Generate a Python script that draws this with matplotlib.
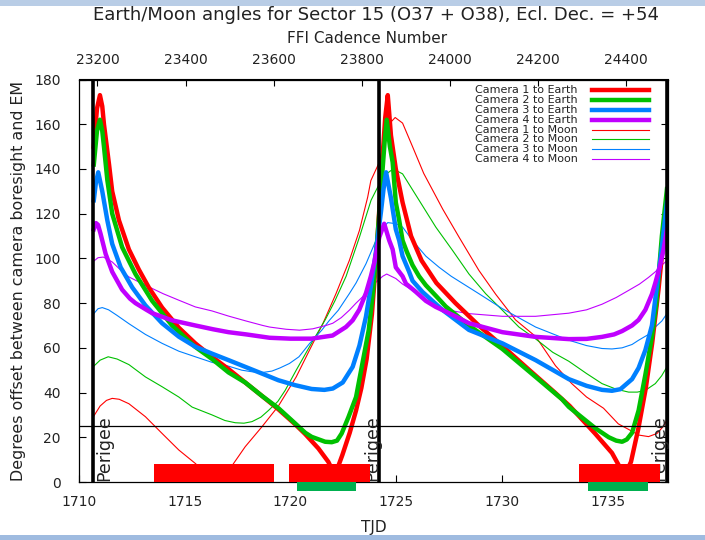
import numpy as np
import matplotlib.pyplot as plt
from matplotlib.patches import Rectangle

# Earth / Moon angle curves (TJD, degrees)
cam1_earth_t = [1710.70, 1710.85, 1710.99, 1711.10, 1711.18, 1711.42, 1711.57, 1711.89, 1712.36, 1712.83,
                1713.30, 1713.93, 1714.72, 1715.50, 1716.29, 1717.07, 1717.86, 1718.65, 1719.43, 1720.20,
                1720.69, 1721.32, 1721.79, 1722.10, 1722.45, 1722.80, 1723.10, 1723.35, 1723.60, 1723.85,
                1724.05, 1724.20, 1724.35, 1724.48, 1724.60, 1724.75, 1724.98, 1725.30, 1725.70, 1726.20,
                1726.90, 1727.80, 1728.90, 1730.00, 1731.30, 1732.50, 1733.20, 1734.40, 1735.20, 1735.55,
                1735.80, 1736.10, 1736.45, 1736.80, 1737.10, 1737.40, 1737.60, 1737.80]
cam1_earth_deg = [150, 167, 173, 168, 160, 142, 130, 117, 104, 95,
                  87, 78, 69, 62, 56, 50.5, 44.5, 38.5, 32.5, 26,
                  21.5, 15, 9, 3, 12, 22, 32, 42, 55, 75,
                  100, 122, 145, 163, 173, 155, 140, 125, 110, 99,
                  89, 80, 70, 61, 50, 40, 34, 21.7, 13, 7,
                  3, 9, 24, 42, 62, 86, 105, 125]

cam2_earth_t = [1710.70, 1710.85, 1710.99, 1711.10, 1711.18, 1711.34, 1711.57, 1712.04, 1712.67, 1713.46,
                1714.40, 1715.50, 1716.29, 1717.07, 1717.86, 1718.65, 1719.43, 1720.22, 1720.70, 1721.00,
                1721.64, 1721.95, 1722.20, 1722.42, 1722.74, 1723.10, 1723.40, 1723.70, 1723.90, 1724.10,
                1724.30, 1724.45, 1724.55, 1724.70, 1724.83, 1724.98, 1725.14, 1725.30, 1725.50, 1725.77,
                1726.08, 1726.40, 1726.90, 1727.34, 1728.44, 1730.02, 1731.59, 1732.84, 1733.16, 1734.42,
                1735.05, 1735.40, 1735.68, 1735.90, 1736.15, 1736.46, 1736.78, 1737.09, 1737.30, 1737.56,
                1737.80]
cam2_earth_deg = [142, 157, 162, 157, 150, 135, 120, 105, 93, 81,
                  70, 60.4, 55, 49, 44.5, 38.5, 33, 26.2, 22, 20.2,
                  18, 17.8, 18.5, 21.7, 29, 38, 53, 68, 85, 108,
                  133, 152, 162, 150, 143, 125, 117, 108, 103, 97,
                  92, 88, 83, 78.5, 70, 59.5, 47, 37, 33.6, 24,
                  20, 18.5, 18, 19, 22, 32, 48, 65, 80, 110,
                  131]

cam3_earth_t = [1710.70, 1710.80, 1710.91, 1711.10, 1711.34, 1711.57, 1711.97, 1712.52, 1713.14, 1713.93,
                1714.72, 1715.50, 1716.29, 1717.07, 1717.86, 1718.65, 1719.43, 1720.22, 1721.00, 1721.60,
                1722.00, 1722.47, 1722.94, 1723.26, 1723.57, 1723.81, 1724.04, 1724.28, 1724.40, 1724.52,
                1724.75, 1724.98, 1725.14, 1725.30, 1725.61, 1725.77, 1726.24, 1727.18, 1728.44, 1730.02,
                1731.59, 1733.16, 1734.00, 1734.73, 1735.20, 1735.60, 1736.15, 1736.46, 1736.78, 1737.09,
                1737.25, 1737.56, 1737.80]
cam3_earth_deg = [126, 134, 138.5, 130, 117, 106.5, 96, 87, 79, 71,
                  65, 60.5, 57.4, 54.5, 51.5, 48.5, 45.5, 43.3, 41.6, 41.2,
                  41.8, 44.5, 51.5, 61, 74, 88, 103, 121, 131, 138.5,
                  127, 113, 108, 101, 94, 90, 85, 77, 68, 62,
                  54.5, 46, 43, 41.2, 40.8, 41.5, 46, 51, 59, 70,
                  82, 105, 125]

cam4_earth_t = [1710.70, 1710.80, 1710.90, 1711.02, 1711.26, 1711.57, 1712.04, 1712.41, 1712.67, 1713.19,
                1713.46, 1714.40, 1715.50, 1716.34, 1717.07, 1717.91, 1719.01, 1720.00, 1721.00, 1721.99,
                1722.62, 1722.94, 1723.25, 1723.57, 1723.80, 1723.96, 1724.20, 1724.43, 1724.67, 1724.83,
                1724.98, 1725.30, 1725.46, 1725.93, 1726.40, 1726.87, 1727.50, 1728.44, 1730.02, 1731.59,
                1733.16, 1734.00, 1734.73, 1735.30, 1735.68, 1736.15, 1736.46, 1736.78, 1737.09, 1737.25,
                1737.48, 1737.64, 1737.80]
cam4_earth_deg = [113, 115.8, 115, 111, 102, 94, 86, 82, 80, 77,
                  75.5, 72.3, 70, 68.3, 67, 66, 64.5, 64.1, 64.1, 65.5,
                  69.3, 72.3, 77, 84.5, 92, 98, 109.5, 115.5, 108, 104,
                  96, 92, 88.7, 85, 81, 78.3, 75.5, 71, 67, 64.9,
                  63.9, 64, 64.9, 66, 67.5, 70, 72.5, 77, 84, 89,
                  97, 104, 113]

cam1_moon_t = [1710.70, 1711.00, 1711.30, 1711.57, 1711.90, 1712.36, 1713.14, 1713.93, 1714.72, 1715.50,
               1716.00, 1716.55, 1717.00, 1717.31, 1717.86, 1718.65, 1719.43, 1720.27, 1720.90, 1721.53,
               1722.15, 1722.78, 1723.26, 1723.65, 1723.80, 1724.20, 1724.50, 1724.75, 1724.95, 1725.30,
               1725.77, 1726.30, 1726.75, 1727.20, 1727.97, 1728.91, 1729.70, 1730.64, 1731.60, 1732.53,
               1733.30, 1734.00, 1734.80, 1735.50, 1735.99, 1736.46, 1736.93, 1737.33, 1737.64, 1737.80]
cam1_moon_deg = [29.5, 34, 36.5, 37.4, 37, 35, 29.2, 21.7, 14.3, 8.3,
                 4, 1, 4, 8.3, 15.8, 24.7, 34, 47, 59, 70.8,
                 84.2, 99, 112.5, 127.4, 134.8, 143, 155, 161, 163, 160.5,
                 150, 138, 130, 122, 109.5, 94.6, 84, 72.5, 65, 52,
                 44, 38, 33, 26, 23.5, 21, 20.3, 21.7, 25, 27.7]

cam2_moon_t = [1710.70, 1711.00, 1711.38, 1711.80, 1712.36, 1713.14, 1713.93, 1714.72, 1715.35, 1716.29,
               1716.90, 1717.39, 1717.80, 1718.18, 1718.60, 1718.96, 1719.40, 1719.75, 1720.27, 1721.05,
               1721.64, 1722.10, 1722.63, 1723.26, 1723.81, 1724.20, 1724.50, 1724.85, 1725.30, 1726.08,
               1726.87, 1727.66, 1728.44, 1729.23, 1730.02, 1730.80, 1731.59, 1732.40, 1733.16, 1734.00,
               1734.73, 1735.40, 1735.99, 1736.40, 1736.78, 1737.25, 1737.55, 1737.80]
cam2_moon_deg = [51.8, 54.5, 56, 55, 52.5, 47, 42.6, 38, 33.5, 30,
                 27.5, 26.5, 26.3, 27, 29, 32, 36, 41, 50, 63,
                 72.5, 81, 92, 109.5, 126, 133.3, 137.5, 140, 137.8, 126,
                 114, 103.6, 93, 84.2, 76.8, 69.3, 64, 58, 54, 48.5,
                 44, 41.5, 40.2, 40.2, 41, 44, 47.5, 51.5]

cam3_moon_t = [1710.70, 1710.90, 1711.10, 1711.40, 1711.80, 1712.36, 1713.14, 1713.93, 1714.72, 1715.50,
               1716.29, 1717.07, 1717.70, 1718.18, 1718.70, 1719.12, 1719.50, 1719.95, 1720.40, 1720.90,
               1721.48, 1721.84, 1722.26, 1722.78, 1723.10, 1723.57, 1724.04, 1724.30, 1724.60, 1725.00,
               1725.30, 1725.77, 1726.40, 1727.03, 1727.60, 1728.91, 1730.02, 1731.59, 1733.16, 1734.00,
               1734.73, 1735.20, 1735.68, 1736.15, 1736.46, 1736.93, 1737.25, 1737.56, 1737.80]
cam3_moon_deg = [75.3, 77.5, 78, 77, 74.5, 70.8, 66, 62, 58.5, 56,
                 53.5, 51.8, 50, 49.3, 49, 49.6, 51, 53, 56, 61.9,
                 67.9, 72.3, 76.8, 84.2, 89, 97.6, 108, 113, 116, 115.5,
                 114, 108, 101, 96, 92, 84.2, 77.5, 69.3, 63.4, 61,
                 59.7, 59.5, 60, 61.5, 63.4, 66, 69.3, 72, 75.3]

cam4_moon_t = [1710.70, 1710.90, 1711.15, 1711.57, 1712.00, 1712.36, 1713.14, 1713.98, 1714.72, 1715.50,
               1716.29, 1717.07, 1717.90, 1718.69, 1719.01, 1719.80, 1720.43, 1721.05, 1721.68, 1722.00,
               1722.40, 1722.78, 1723.10, 1723.43, 1723.73, 1724.00, 1724.36, 1724.55, 1724.98, 1725.30,
               1725.77, 1726.40, 1726.87, 1727.34, 1728.44, 1730.02, 1731.59, 1733.16, 1734.00, 1734.73,
               1735.40, 1735.99, 1736.50, 1736.93, 1737.25, 1737.56, 1737.80]
cam4_moon_deg = [98.8, 100.3, 100.6, 98.4, 94.5, 91.7, 88, 84.2, 81.3, 78.3,
                 76.5, 74.2, 72, 70, 69.3, 68.3, 67.9, 68.5, 70, 71,
                 73.5, 76.8, 80, 83, 86, 89, 92, 93, 91, 88.5,
                 85.7, 80.5, 79, 77, 75.3, 74.1, 74.1, 75.5, 77, 79.5,
                 82.5, 85.7, 88.5, 91.5, 94, 97, 99]

perigee_tjd = [1710.66, 1724.20, 1737.78]
earth_bars = [(1713.54, 1719.20), (1719.95, 1723.77), (1733.63, 1737.45)]
moon_bars = [(1720.33, 1723.11), (1734.06, 1736.90)]

labels = ['Camera 1 to Earth', 'Camera 2 to Earth', 'Camera 3 to Earth', 'Camera 4 to Earth',
          'Camera 1 to Moon', 'Camera 2 to Moon', 'Camera 3 to Moon', 'Camera 4 to Moon']
colors = ['#ff0000', '#00c000', '#0080ff', '#c000ff']

# FFI cadence <-> TJD (30 min cadence)
cad0, tjd0 = 23200, 1710.87
def tjd_to_cad(t):
    return cad0 + 48.0 * (np.asarray(t) - tjd0)
def cad_to_tjd(c):
    return tjd0 + (np.asarray(c) - cad0) / 48.0

fig = plt.figure(figsize=(7.05, 5.4), dpi=100)
ax = fig.add_axes([79 / 705, 58 / 540, 589 / 705, 402.5 / 540])

series = [(cam1_earth_t, cam1_earth_deg), (cam2_earth_t, cam2_earth_deg),
          (cam3_earth_t, cam3_earth_deg), (cam4_earth_t, cam4_earth_deg),
          (cam1_moon_t, cam1_moon_deg), (cam2_moon_t, cam2_moon_deg),
          (cam3_moon_t, cam3_moon_deg), (cam4_moon_t, cam4_moon_deg)]

for i, (t, d) in enumerate(series):
    thick = i < 4
    ax.plot(t, d, color=colors[i % 4], lw=3.2 if thick else 0.8, zorder=3 if thick else 2.5,
            solid_joinstyle='round')

# perigee markers and 25 deg line
for t in perigee_tjd:
    ax.axvline(t, color='black', lw=2.6, zorder=4)
ax.axhline(25, color='black', lw=0.9, zorder=4)

for xt in [1710.78, 1723.42, 1737.02]:
    ax.text(xt, 0.5, 'Perigee', rotation=90, fontsize=12.5, ha='left', va='bottom',
            color='#222222', zorder=4.5)

for a, b in earth_bars:
    ax.add_patch(Rectangle((a, 0), b - a, 8.2, color='#ff0000', lw=0, zorder=5))
for a, b in moon_bars:
    ax.add_patch(Rectangle((a, -4.2), b - a, 4.2, color='#00b050', lw=0, zorder=5, clip_on=False))

ax.set_xlim(1710, 1737.85)
ax.set_ylim(0, 180)
ax.set_xticks([1710, 1715, 1720, 1725, 1730, 1735])
ax.set_yticks(np.arange(0, 181, 20))
ax.tick_params(direction='in', length=5, width=0.8, right=True, top=False, labelsize=10,
               colors='black', labelcolor='#222222')
ax.tick_params(axis='x', pad=9)
ax.tick_params(axis='y', pad=13)
for s in ax.spines.values():
    s.set_linewidth(0.9)

sec = ax.secondary_xaxis('top', functions=(tjd_to_cad, cad_to_tjd))
sec.set_xticks(np.arange(23200, 24401, 200))
sec.tick_params(direction='in', length=5, width=0.8, labelsize=10, pad=9, labelcolor='#222222')

ax.set_xlabel('TJD', fontsize=11, labelpad=8, color='#222222')
ax.set_ylabel('Degrees offset between camera boresight and EM', fontsize=11.4, labelpad=6,
              color='#222222')
fig.text(0.533, 0.972, 'Earth/Moon angles for Sector 15 (O37 + O38), Ecl. Dec. = +54',
         ha='center', va='center', fontsize=13, color='#222222')
fig.text(0.52, 0.929, 'FFI Cadence Number', ha='center', va='center', fontsize=11,
         color='#222222')

# legend, gnuplot style (text right-aligned, sample to the right)
for i, lab in enumerate(labels):
    y = 0.974 - i * 0.0246
    ax.text(0.847, y, lab, transform=ax.transAxes, ha='right', va='center', fontsize=8,
            color='#222222', zorder=6)
    ax.plot([0.871, 0.968], [y, y], transform=ax.transAxes, color=colors[i % 4],
            lw=3.2 if i < 4 else 0.8, zorder=6)

# window frame bits from the screenshot
fig.patches.append(Rectangle((0, 1 - 6 / 540), 1, 6 / 540, transform=fig.transFigure,
                             color='#b9cde6', lw=0, zorder=0))
fig.patches.append(Rectangle((0, 0), 1, 5 / 540, transform=fig.transFigure,
                             color='#9fbbe0', lw=0, zorder=0))

fig.savefig('out.png', dpi=100)
